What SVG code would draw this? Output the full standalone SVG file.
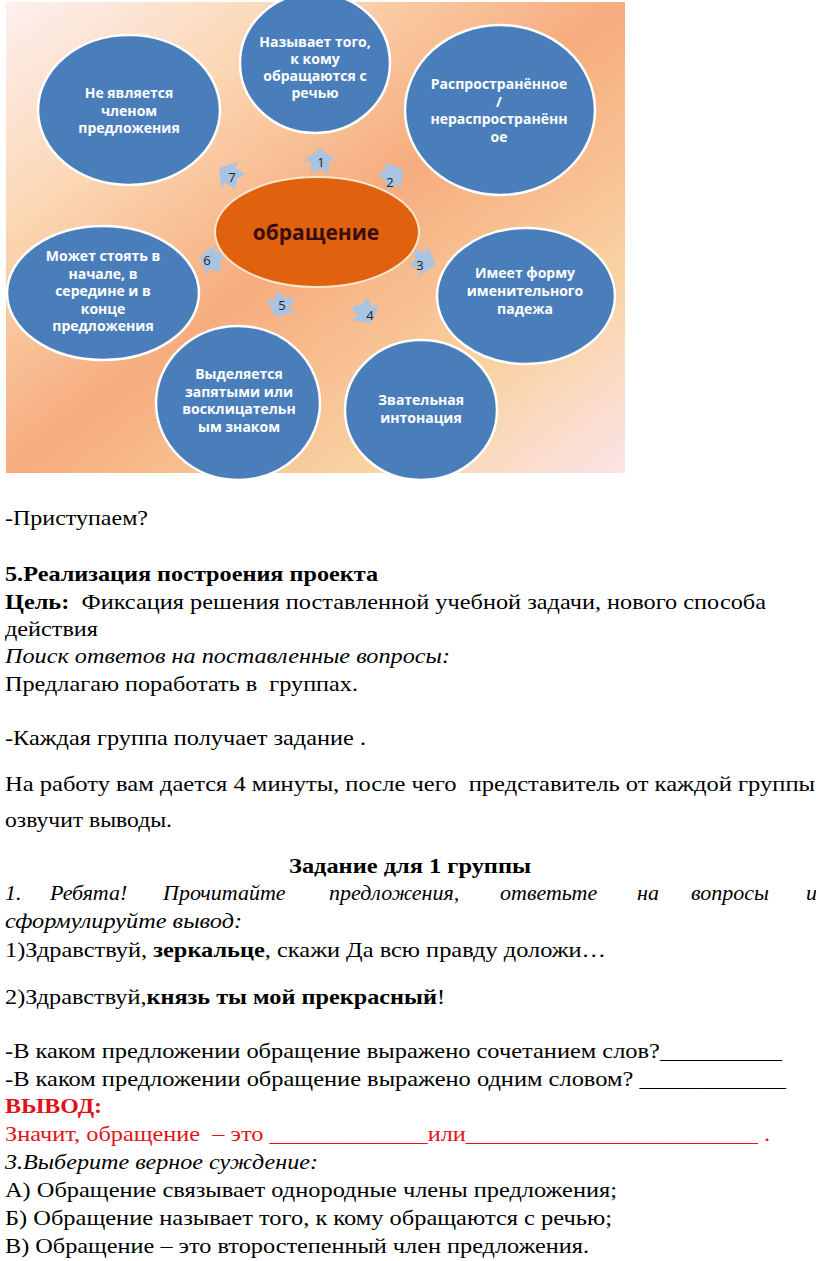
<svg xmlns="http://www.w3.org/2000/svg" width="816" height="1261" viewBox="0 0 816 1261">
<defs>
<linearGradient id="bg" x1="0" y1="0" x2="1" y2="1">
<stop offset="0" stop-color="#fdf0f0"/>
<stop offset="0.25" stop-color="#fbd6b2"/>
<stop offset="0.5" stop-color="#f6ac7e"/>
<stop offset="0.78" stop-color="#f9d2a2"/>
<stop offset="1" stop-color="#fbe4e8"/>
</linearGradient>
<polygon id="arr" points="0,-13 16,0 9,0 9,12 0,8 -9,12 -9,0 -16,0"/>
</defs>
<style>
.bl{fill:#4a7ebb;stroke:#ffffff;stroke-width:2.5}
.nt{font-family:"Open Sans","Noto Sans",sans-serif;font-weight:bold;font-size:14px;fill:#ffffff;text-anchor:middle}
.ar{fill:#a9c3e3}
.an{font-family:"Open Sans","Noto Sans",sans-serif;font-size:13px;fill:#222222;text-anchor:middle}
.t{font-family:"Liberation Serif","DejaVu Serif","Noto Serif","Times New Roman",serif;font-size:22px;fill:#000000;white-space:pre}
.b{font-weight:bold}
.i{font-style:italic}
.r{fill:#e3111b}
</style>
<rect x="6" y="2" width="619" height="471" fill="url(#bg)"/>

<g id="connectors">
<g transform="translate(320,161)"><use href="#arr" class="ar"/></g>
<g transform="translate(392,176) rotate(56)"><use href="#arr" class="ar"/></g>
<g transform="translate(423,261) rotate(107)"><use href="#arr" class="ar"/></g>
<g transform="translate(365,312) rotate(150)"><use href="#arr" class="ar"/></g>
<g transform="translate(281,305) rotate(204)"><use href="#arr" class="ar"/></g>
<g transform="translate(212,260) rotate(286)"><use href="#arr" class="ar"/></g>
<g transform="translate(230,175) rotate(303)"><use href="#arr" class="ar"/></g>
<text class="an" x="321" y="167">1</text>
<text class="an" x="390" y="187">2</text>
<text class="an" x="420" y="270">3</text>
<text class="an" x="370" y="320">4</text>
<text class="an" x="282" y="310">5</text>
<text class="an" x="207" y="265">6</text>
<text class="an" x="232" y="182">7</text>
</g>

<g id="node-top">
<ellipse class="bl" cx="315" cy="63" rx="75" ry="70"/>
<text class="nt" x="315" y="47">Называет того,</text>
<text class="nt" x="315" y="64">к кому</text>
<text class="nt" x="315" y="81">обращаются с</text>
<text class="nt" x="315" y="98">речью</text>
</g>
<g id="node-tl">
<ellipse class="bl" cx="129" cy="110" rx="91" ry="75"/>
<text class="nt" x="129" y="98">Не является</text>
<text class="nt" x="129" y="116">членом</text>
<text class="nt" x="129" y="133">предложения</text>
</g>
<g id="node-tr">
<ellipse class="bl" cx="500" cy="110" rx="95" ry="85"/>
<text class="nt" x="499" y="89">Распространённое</text>
<text class="nt" x="499" y="106.5">/</text>
<text class="nt" x="499" y="124">нераспространённ</text>
<text class="nt" x="499" y="141.5">ое</text>
</g>
<g id="node-r">
<ellipse class="bl" cx="526" cy="296" rx="89" ry="68"/>
<text class="nt" x="525" y="278">Имеет форму</text>
<text class="nt" x="525" y="296">именительного</text>
<text class="nt" x="525" y="314">падежа</text>
</g>
<g id="node-br">
<ellipse class="bl" cx="421" cy="410" rx="76" ry="70"/>
<text class="nt" x="421" y="405">Звательная</text>
<text class="nt" x="421" y="423">интонация</text>
</g>
<g id="node-b">
<ellipse class="bl" cx="238" cy="403" rx="82" ry="77"/>
<text class="nt" x="239" y="379">Выделяется</text>
<text class="nt" x="239" y="396.5">запятыми или</text>
<text class="nt" x="239" y="414">восклицательн</text>
<text class="nt" x="239" y="431.5">ым знаком</text>
</g>
<g id="node-l">
<ellipse class="bl" cx="103" cy="293" rx="96" ry="67"/>
<text class="nt" x="103" y="261">Может стоять в</text>
<text class="nt" x="103" y="278.5">начале, в</text>
<text class="nt" x="103" y="296">середине и в</text>
<text class="nt" x="103" y="313.5">конце</text>
<text class="nt" x="103" y="331">предложения</text>
</g>
<g id="node-center">
<ellipse cx="317" cy="232" rx="102" ry="55" fill="#e0620e" stroke="#fde6cc" stroke-width="2"/>
<text x="316" y="240" font-family="Open Sans, Noto Sans, sans-serif" font-weight="bold" font-size="21" fill="#3a0c0c" text-anchor="middle">обращение</text>
</g>

<g id="text">
<text class="t" x="5" y="525" textLength="143" lengthAdjust="spacingAndGlyphs">-Приступаем?</text>
<text class="t b" x="5" y="581" textLength="373" lengthAdjust="spacingAndGlyphs">5.Реализация построения проекта</text>
<text class="t" x="5" y="609" textLength="761" lengthAdjust="spacingAndGlyphs"><tspan class="b">Цель:</tspan>  Фиксация решения поставленной учебной задачи, нового способа</text>
<text class="t" x="5" y="636" textLength="93" lengthAdjust="spacingAndGlyphs">действия</text>
<text class="t i" x="5" y="663" textLength="445" lengthAdjust="spacingAndGlyphs">Поиск ответов на поставленные вопросы:</text>
<text class="t" x="5" y="691" textLength="353" lengthAdjust="spacingAndGlyphs">Предлагаю поработать в  группах.</text>
<text class="t" x="5" y="745" textLength="361" lengthAdjust="spacingAndGlyphs">-Каждая группа получает задание .</text>
<text class="t" x="5" y="791" textLength="810" lengthAdjust="spacingAndGlyphs">На работу вам дается 4 минуты, после чего  представитель от каждой группы</text>
<text class="t" x="5" y="827" textLength="167" lengthAdjust="spacingAndGlyphs">озвучит выводы.</text>
<text class="t b" x="289" y="873" textLength="242" lengthAdjust="spacingAndGlyphs">Задание для 1 группы</text>
<text class="t i" y="900"><tspan x="5">1.</tspan><tspan x="50">Ребята!</tspan><tspan x="163">Прочитайте</tspan><tspan x="329">предложения,</tspan><tspan x="500">ответьте</tspan><tspan x="637">на</tspan><tspan x="691">вопросы</tspan><tspan x="806">и</tspan></text>
<text class="t i" x="5" y="928" textLength="237" lengthAdjust="spacingAndGlyphs">сформулируйте вывод:</text>
<text class="t" x="5" y="957" textLength="601" lengthAdjust="spacingAndGlyphs">1)Здравствуй, <tspan class="b">зеркальце</tspan>, скажи Да всю правду доложи…</text>
<text class="t" x="5" y="1004" textLength="440" lengthAdjust="spacingAndGlyphs">2)Здравствуй,<tspan class="b">князь ты мой прекрасный</tspan>!</text>
<text class="t" x="5" y="1058" textLength="777" lengthAdjust="spacingAndGlyphs">-В каком предложении обращение выражено сочетанием слов?__________</text>
<text class="t" x="5" y="1086" textLength="781" lengthAdjust="spacingAndGlyphs">-В каком предложении обращение выражено одним словом? ____________</text>
<text class="t b r" x="5" y="1113" textLength="97" lengthAdjust="spacingAndGlyphs">ВЫВОД:</text>
<text class="t r" x="5" y="1141" textLength="765" lengthAdjust="spacingAndGlyphs">Значит, обращение  – это _____________или________________________ .</text>
<text class="t i" x="5" y="1169" textLength="313" lengthAdjust="spacingAndGlyphs">3.Выберите верное суждение:</text>
<text class="t" x="5" y="1197" textLength="612" lengthAdjust="spacingAndGlyphs">А) Обращение связывает однородные члены предложения;</text>
<text class="t" x="5" y="1225" textLength="607" lengthAdjust="spacingAndGlyphs">Б) Обращение называет того, к кому обращаются с речью;</text>
<text class="t" x="5" y="1253" textLength="584" lengthAdjust="spacingAndGlyphs">В) Обращение – это второстепенный член предложения.</text>
</g>
</svg>
